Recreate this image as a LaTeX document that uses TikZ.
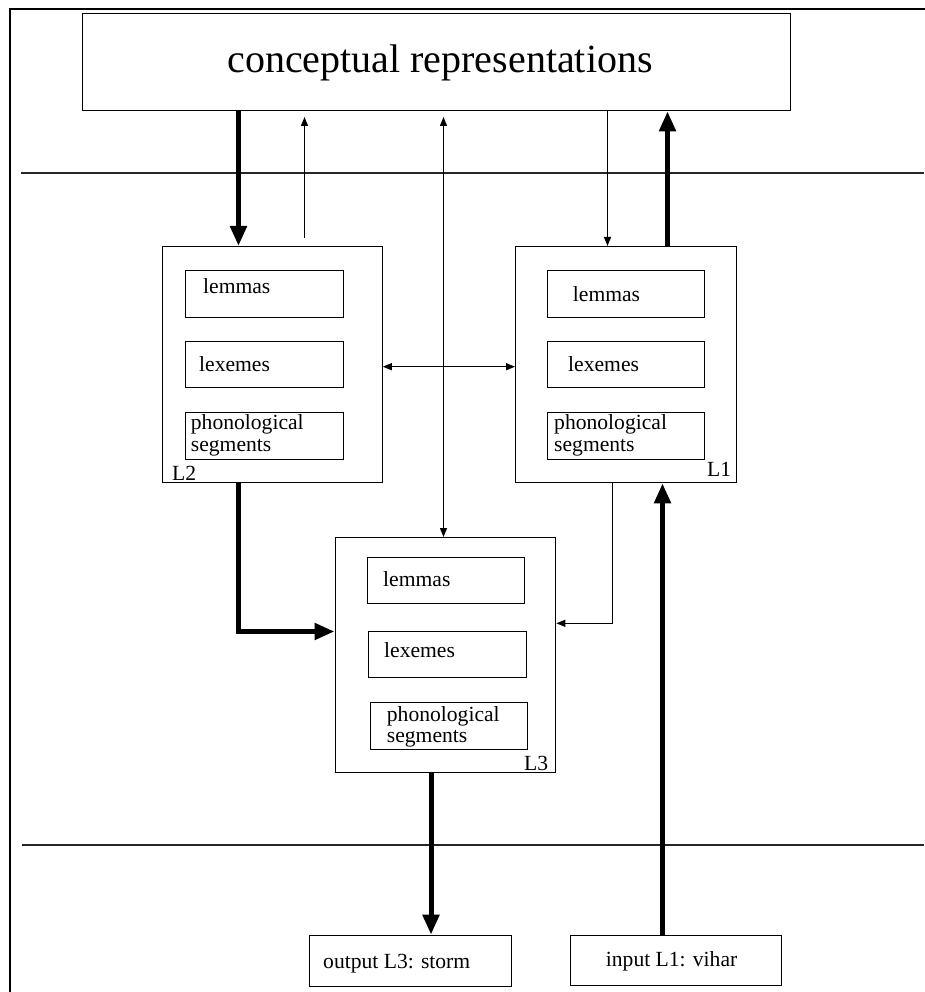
\documentclass[tikz,border=0pt]{standalone}
\usepackage{fontspec}
\setmainfont{Liberation Serif}
\usetikzlibrary{arrows.meta}
\begin{document}
\begin{tikzpicture}[x=1pt,y=-1pt,
  box/.style={draw, line width=1.3pt, inner sep=0pt, anchor=north west},
  txt/.style={anchor=base west, inner sep=0pt, font=\fontsize{21.6}{22}\selectfont},
  rule/.style={line width=1.4pt, draw=black!85},
  frameline/.style={line width=2.2pt, line cap=rect},
  heavyarrow/.style={line width=5pt, -{Triangle[length=20pt,width=16pt]}},
  lightarrow/.style={line width=1.3pt, -{Triangle[length=9pt,width=7pt]}},
  lightboth/.style={line width=1.3pt, {Triangle[length=9pt,width=7pt]}-{Triangle[length=9pt,width=7pt]}}]
\useasboundingbox (0,0) rectangle (924,992);

% outer frame (runs off the right and bottom)
\draw[frameline] (10,1000) -- (10,9) -- (930,9);

% level separators
\draw[rule] (21,173) -- (924,173);
\draw[rule] (22,845) -- (924,845);

% conceptual level
\node[box, minimum width=708pt, minimum height=97pt] (concept) at (82,13) {};
\node[anchor=base, inner sep=0pt, font=\fontsize{40}{41}\selectfont] (concepttxt) at (440,73) {conceptual representations};

% L2 lexicon
\node[box, minimum width=220pt, minimum height=236pt] (L2) at (161.5,246) {};
\node[box, minimum width=157.5pt, minimum height=47pt] (L2a) at (185,270) {};
\node[box, minimum width=157.5pt, minimum height=46.5pt] (L2b) at (185,340.5) {};
\node[box, minimum width=157.5pt, minimum height=47pt] (L2c) at (185,411.5) {};
\node[txt] (L2at) at (203,293.3) {lemmas};
\node[txt] (L2bt) at (199,371.7) {lexemes};
\node[txt] (L2ct) at (190.7,429) {phonological};
\node[txt] (L2dt) at (190.7,451) {segments};
\node[txt] (L2lab) at (172,480) {L2};

% L1 lexicon
\node[box, minimum width=221pt, minimum height=236pt] (L1) at (515,246) {};
\node[box, minimum width=157.3pt, minimum height=47pt] (L1a) at (546.7,270) {};
\node[box, minimum width=157.3pt, minimum height=46.3pt] (L1b) at (546.7,340.7) {};
\node[box, minimum width=157.3pt, minimum height=47pt] (L1c) at (546.7,411.7) {};
\node[txt] (L1at) at (572.7,301) {lemmas};
\node[txt] (L1bt) at (568,371.7) {lexemes};
\node[txt] (L1ct) at (554,429.3) {phonological};
\node[txt] (L1dt) at (554,451) {segments};
\node[txt] (L1lab) at (707,476.7) {L1};

% L3 lexicon
\node[box, minimum width=220.5pt, minimum height=235pt] (L3) at (334.5,537) {};
\node[box, minimum width=157.3pt, minimum height=46.3pt] (L3a) at (366.7,556.7) {};
\node[box, minimum width=157.7pt, minimum height=46.3pt] (L3b) at (368,630.7) {};
\node[box, minimum width=157pt, minimum height=47pt] (L3c) at (370,701.7) {};
\node[txt] (L3at) at (383,586.7) {lemmas};
\node[txt] (L3bt) at (384,657.3) {lexemes};
\node[txt] (L3ct) at (386.7,721.7) {phonological};
\node[txt] (L3dt) at (386.7,742.7) {segments};
\node[txt] (L3lab) at (524,770.7) {L3};

% input / output
\node[box, minimum width=201.7pt, minimum height=51pt] (out) at (309,934.7) {};
\node[txt] (outt) at (323,968.3) {output L3: storm};
\node[box, minimum width=211pt, minimum height=50.3pt] (in) at (570,934.7) {};
\node[txt] (int) at (605.7,966.7) {input L1: vihar};

% connector tracks
\coordinate (xa) at (238.5,0);
\coordinate (xb) at (304.5,0);
\coordinate (xc) at (443.5,0);
\coordinate (xd) at (607.5,0);
\coordinate (xe) at (667.5,0);
\coordinate (xf) at (612.5,0);
\coordinate (xg) at (431,0);
\coordinate (xh) at (662.5,0);
\coordinate (ya) at (0,366.7);
\coordinate (yb) at (0,631.5);
\coordinate (yc) at (0,623.3);
\coordinate (upstart) at (304.5,238);
\coordinate (uptip) at (304.5,117);
\coordinate (midtip) at (443.5,117);

% connectors
\draw[heavyarrow] (concept.south -| xa) -- (L2.north -| xa);
\draw[lightarrow] (upstart) -- (uptip);
\draw[lightboth] (midtip) -- (L3.north -| xc);
\draw[lightarrow] (concept.south -| xd) -- (L1.north -| xd);
\draw[heavyarrow] (L1.north -| xe) -- (concept.south -| xe);
\draw[lightboth] (L2.east |- ya) -- (L1.west |- ya);
\draw[heavyarrow] (L2.south -| xa) |- (L3.west |- yb);
\draw[lightarrow] (L1.south -| xf) |- (L3.east |- yc);
\draw[heavyarrow] (L3.south -| xg) -- (out.north -| xg);
\draw[heavyarrow] (in.north -| xh) -- (L1.south -| xh);
\end{tikzpicture}
\end{document}
